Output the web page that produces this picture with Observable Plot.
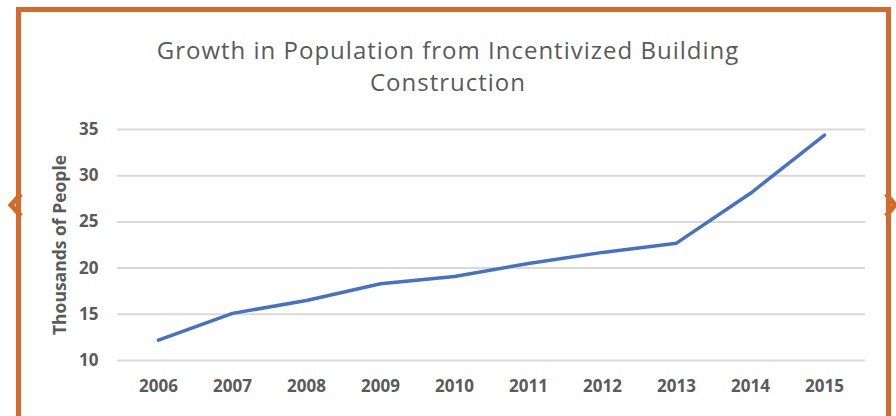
<!DOCTYPE html>
<html>
<head>
<meta charset="utf-8">
<script src="https://cdn.jsdelivr.net/npm/d3@7"></script>
<script src="https://cdn.jsdelivr.net/npm/@observablehq/plot@0.6"></script>
<style>
  html, body { margin: 0; padding: 0; background: #ffffff; width: 896px; height: 416px; overflow: hidden; }
  #frame { position: absolute; left: 16px; top: 7px; width: 865px; height: 460px; border: 5px solid #d46a2a; border-bottom: none; }
  .title { position: absolute; left: 0; width: 896px; text-align: center; font-family: "Open Sans", sans-serif; font-size: 24px; letter-spacing: 1px; line-height: 31px; height: 31px; color: #5a5a5a; }
  #chart { position: absolute; left: 0; top: 100px; }
  #notches { position: absolute; left: 0; top: 0; }
</style>
</head>
<body>
<div id="frame"></div>
<svg id="notches" width="896" height="416">
  <polyline points="21,194 11,205 21,216" fill="none" stroke="#d46a2a" stroke-width="5" stroke-linejoin="miter"/>
  <polyline points="886,194 895,205 886,216" fill="none" stroke="#d46a2a" stroke-width="5" stroke-linejoin="miter"/>
</svg>
<div class="title" style="top:34px">Growth in Population from Incentivized Building</div>
<div class="title" style="top:66px">Construction</div>
<div id="chart"></div>
<script>
const years = ["2006","2007","2008","2009","2010","2011","2012","2013","2014","2015"];
const population = [12.2, 15.1, 16.5, 18.3, 19.1, 20.5, 21.7, 22.7, 28.1, 34.4];
const yTicks = [10, 15, 20, 25, 30, 35];
const yLabel = "Thousands of People";

const data = years.map((year, i) => ({year, value: population[i]}));

const plot = Plot.plot({
  width: 896,
  height: 316,
  marginTop: 29,
  marginBottom: 56,
  marginLeft: 117,
  marginRight: 31,
  style: { fontFamily: "'Open Sans', sans-serif", fontSize: "17px", fontWeight: "bold", color: "#5a5a5a", background: "transparent" },
  x: { type: "point", domain: years, padding: 0.5, label: null, tickSize: 0, tickPadding: 19 },
  y: { domain: [10, 35], ticks: yTicks, tickSize: 0, tickPadding: 19, label: null },
  marks: [
    Plot.gridY(yTicks, { stroke: "#d9d9d9", strokeOpacity: 1, strokeWidth: 2 }),
    Plot.lineY(data, { x: "year", y: "value", stroke: "#4472c4", strokeWidth: 3.5, strokeLinejoin: "round", strokeLinecap: "round" }),
    Plot.text([yLabel], { frameAnchor: "left", rotate: -90, dx: -57, textAnchor: "middle", text: d => d, fontSize: 17.5, fontWeight: "bold", fill: "#5a5a5a" })
  ]
});
document.getElementById("chart").appendChild(plot);
</script>
</body>
</html>
